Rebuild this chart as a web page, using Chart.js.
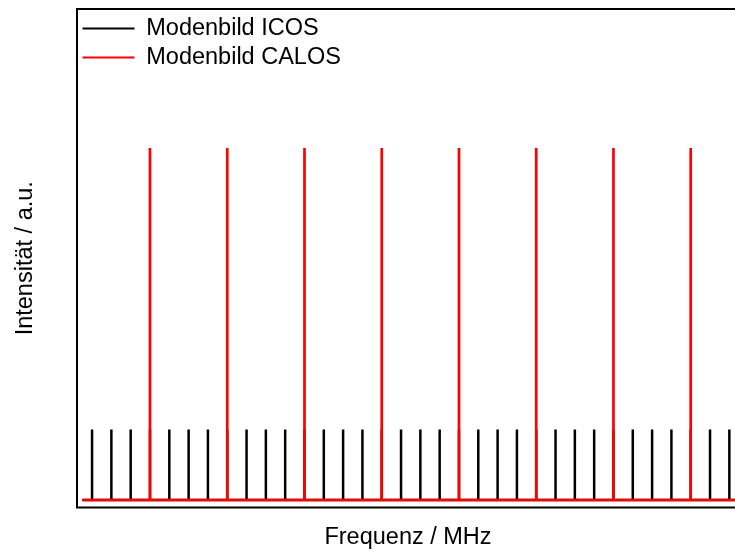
<!DOCTYPE html>
<html>
<head>
<meta charset="utf-8">
<script src="https://cdn.jsdelivr.net/npm/chart.js@4/dist/chart.umd.min.js"></script>
<style>
  html, body { margin: 0; padding: 0; background: #fff; overflow: hidden; }
  #wrap { width: 745px; height: 552px; }
</style>
</head>
<body>
<div id="wrap"><canvas id="modeChart" width="745" height="552"></canvas></div>
<script>
// mode positions (in units of ICOS mode spacing) and intensities
const icosModes = [0, 1, 2, 3, 4, 5, 6, 7, 8, 9, 10, 11, 12, 13, 14, 15, 16,
  17, 18, 19, 20, 21, 22, 23, 24, 25, 26, 27, 28, 29, 30, 31, 32, 33];
const icosIntensity = [0.2, 0.2, 0.2, 0.2, 0.2, 0.2, 0.2, 0.2, 0.2, 0.2, 0.2, 0.2,
  0.2, 0.2, 0.2, 0.2, 0.2, 0.2, 0.2, 0.2, 0.2, 0.2, 0.2, 0.2, 0.2, 0.2, 0.2, 0.2,
  0.2, 0.2, 0.2, 0.2, 0.2, 0.2];
const calosModes = [3, 7, 11, 15, 19, 23, 27, 31];
const calosIntensity = [1, 1, 1, 1, 1, 1, 1, 1];
const spectrumStart = -0.5;
const spectrumEnd = 33.6;
const seriesLabels = ["Modenbild ICOS", "Modenbild CALOS"];

const FONT = "'Liberation Sans', Arial, sans-serif";
const FONT_SIZE = 23.5;

// turn mode list into a stick spectrum along the baseline
function stickSpectrum(modes, heights) {
  const pts = [{ x: spectrumStart, y: 0 }];
  modes.forEach((m, i) => {
    pts.push({ x: m, y: 0 }, { x: m, y: heights[i] }, { x: m, y: 0 });
  });
  pts.push({ x: spectrumEnd, y: 0 });
  return pts;
}

// frame around the plot area
const framePlugin = {
  id: "frame",
  afterDatasetsDraw(chart) {
    const { ctx, chartArea: a } = chart;
    ctx.save();
    ctx.strokeStyle = "#000";
    ctx.lineWidth = 2;
    ctx.strokeRect(a.left, a.top, a.right - a.left, a.bottom - a.top);
    ctx.restore();
  }
};

new Chart(document.getElementById("modeChart"), {
  type: "line",
  data: {
    datasets: [
      {
        label: seriesLabels[0],
        data: stickSpectrum(icosModes, icosIntensity),
        borderColor: "#000",
        backgroundColor: "#000",
        borderWidth: 2.5,
        pointRadius: 0,
        tension: 0,
        order: 2
      },
      {
        label: seriesLabels[1],
        data: stickSpectrum(calosModes, calosIntensity),
        borderColor: "#ff0000",
        backgroundColor: "#ff0000",
        borderWidth: 2.7,
        pointRadius: 0,
        tension: 0,
        order: 1
      }
    ]
  },
  options: {
    responsive: false,
    animation: false,
    layout: { padding: { left: 0, top: 9, right: 6, bottom: 0 } },
    plugins: {
      tooltip: { enabled: false },
      legend: {
        position: "chartArea",
        align: "start",
        title: {
          display: true,
          text: " ",
          font: { size: 1 },
          padding: { top: 0, bottom: 10 }
        },
        labels: {
          color: "#000",
          font: { family: FONT, size: FONT_SIZE },
          boxWidth: 52,
          boxHeight: 2,
          padding: 5.5,
          generateLabels(chart) {
            return chart.data.datasets.map((ds, i) => ({
              text: ds.label,
              fillStyle: ds.borderColor,
              strokeStyle: ds.borderColor,
              lineWidth: 0,
              fontColor: "#000",
              datasetIndex: i
            }));
          }
        }
      }
    },
    scales: {
      x: {
        type: "linear",
        min: -0.78,
        max: 33.5,
        grid: { display: false },
        border: { display: false },
        ticks: { display: false },
        title: {
          display: true,
          text: "Frequenz / MHz",
          color: "#000",
          font: { family: FONT, size: FONT_SIZE },
          padding: { top: 0, bottom: 0 }
        },
        afterFit(axis) { axis.height = 44.5; }
      },
      y: {
        min: -0.0213,
        max: 1.395,
        grid: { display: false },
        border: { display: false },
        ticks: { display: false },
        title: {
          display: true,
          text: "Intensität / a.u.",
          color: "#000",
          font: { family: FONT, size: FONT_SIZE },
          padding: { top: 11.5, bottom: 0 }
        },
        afterFit(axis) { axis.width = 77; }
      }
    }
  },
  plugins: [framePlugin]
});
</script>
</body>
</html>
